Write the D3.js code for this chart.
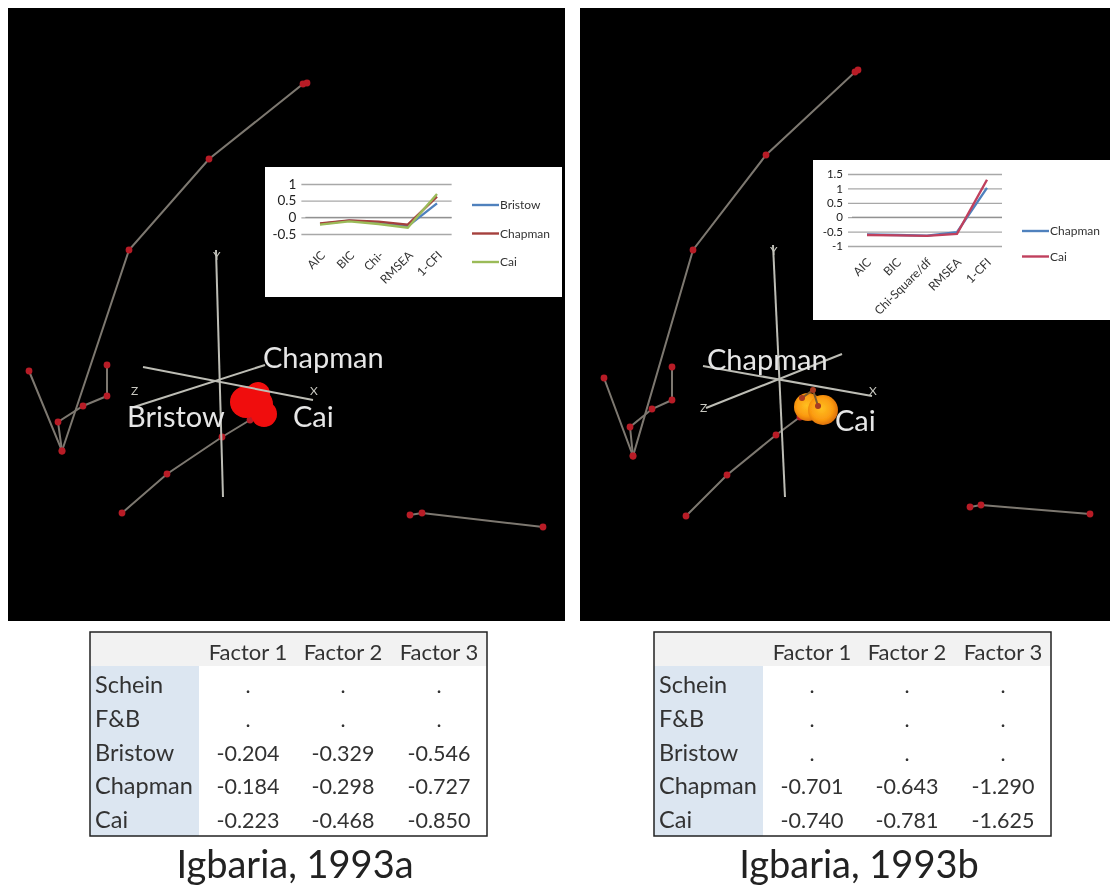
<!DOCTYPE html>
<html><head><meta charset="utf-8">
<script src="https://cdn.jsdelivr.net/npm/d3@7/dist/d3.min.js"></script>
<style>html,body{margin:0;background:#fff;overflow:hidden}svg{display:block}text{font-family:Lato,"Open Sans",sans-serif}</style>
</head><body><svg id="c" width="1110" height="886"></svg>
<script>
// ---- data ----
const factors = ["Factor 1","Factor 2","Factor 3"];
const rows = ["Schein","F&B","Bristow","Chapman","Cai"];
const tableA = [[".",".","."],[".",".","."],["-0.204","-0.329","-0.546"],["-0.184","-0.298","-0.727"],["-0.223","-0.468","-0.850"]];
const tableB = [[".",".","."],[".",".","."],[".",".","."],["-0.701","-0.643","-1.290"],["-0.740","-0.781","-1.625"]];
const fits = ["AIC","BIC","Chi-Square/df","RMSEA","1-CFI"];
const fitsShort = ["AIC","BIC","Chi-","RMSEA","1-CFI"];
const bristowA = [-0.20,-0.10,-0.15,-0.27,0.42];
const chapmanA = [-0.18,-0.09,-0.13,-0.22,0.62];
const caiA = [-0.22,-0.12,-0.20,-0.31,0.70];
const chapmanB = [-0.60,-0.62,-0.64,-0.52,1.02];
const caiB = [-0.62,-0.63,-0.65,-0.58,1.30];
// scene points, in scene units
const chainsA = [[[299,75],[295,76],[201,151],[121,242],[54,443],[21,363]],[[54,443],[50,414],[75,398],[99,388],[99,357]],[[114,505],[159,466],[214,429],[242,412]],[[402,507],[414,505],[535,519]]];
const chainsB = [[[278,62],[275,64],[186,147],[113,242],[53,448],[24,370]],[[53,448],[50,419],[72,401],[92,392],[92,359]],[[106,508],[147,467],[196,427],[220,409]],[[390,499],[401,497],[510,506]]];
const sticksA = [];
const sticksB = [[[222,390],[233,382],[238,398]]];
const axesA = [[[208,242],[215,489]],[[135,359],[305,392]],[[126,399],[257,357]]];
const axesB = [[[193,237],[205,489]],[[123,358],[292,388]],[[126,400],[262,346]]];
const axisLetA = [["Y",205,252],["X",302,387],["Z",123,387]];
const axisLetB = [["Y",190,247],["X",289,387],["Z",120,404]];
const blobsA = [[238,394,16],[250,386,12],[256,406,13],[250,396,15]];
const blobsB = [[228,399,14],[243,402,15]];
const labelsA = [["Chapman",255,360],["Bristow",119,419],["Cai",285,419]];
const labelsB = [["Chapman",127,362],["Cai",255,423]];
const colorsA = {Bristow:"#4f81bd",Chapman:"#a5403d",Cai:"#9bbb59"};
const colorsB = {Chapman:"#4f81bd",Cai:"#c0405d"};

// ---- drawing ----
const svg = d3.select("#c");
const defs = svg.append("defs");
const f = defs.append("filter").attr("id","soft").attr("x","-5%").attr("y","-5%").attr("width","110%").attr("height","110%");
f.append("feGaussianBlur").attr("stdDeviation",0.7);
const f2 = defs.append("filter").attr("id","soft2").attr("x","-5%").attr("y","-5%").attr("width","110%").attr("height","110%");
f2.append("feGaussianBlur").attr("stdDeviation",0.4);
const g = defs.append("radialGradient").attr("id","orange").attr("cx","45%").attr("cy","45%").attr("r","58%");
[[0,"#ffc020"],[0.65,"#fb9a10"],[1,"#d86a08"]].forEach(d=>g.append("stop").attr("offset",d[0]).attr("stop-color",d[1]));

function scene(x0,w,chains,sticks,axes,letters,blobs,labels,blobFill){
  const sx = d3.scaleLinear().domain([0,w]).range([x0,x0+w]);
  const sy = d3.scaleLinear().domain([0,613]).range([8,621]);
  svg.append("rect").attr("x",sx(0)).attr("y",sy(0)).attr("width",w).attr("height",613).attr("fill","#000");
  const s = svg.append("g").attr("filter","url(#soft2)");
  const line = d3.line().x(d=>sx(d[0])).y(d=>sy(d[1]));
  s.selectAll(null).data(chains).join("path").attr("d",line).attr("fill","none").attr("stroke","#7d7870").attr("stroke-width",2);
  s.selectAll(null).data(chains.flat()).join("circle").attr("cx",d=>sx(d[0])).attr("cy",d=>sy(d[1])).attr("r",3.4).attr("fill","#b81e28");
  s.selectAll(null).data(blobs).join("circle").attr("cx",d=>sx(d[0])).attr("cy",d=>sy(d[1])).attr("r",d=>d[2]).attr("fill",blobFill);
  s.selectAll(null).data(sticks).join("path").attr("d",line).attr("fill","none").attr("stroke","#7a5a30").attr("stroke-width",2);
  s.selectAll(null).data(sticks.flat()).join("circle").attr("cx",d=>sx(d[0])).attr("cy",d=>sy(d[1])).attr("r",3).attr("fill","#a83a20");
  s.selectAll(null).data(axes).join("path").attr("d",line).attr("fill","none").attr("stroke","#bdbdb5").attr("stroke-width",2);
  s.selectAll(null).data(letters).join("text").attr("x",d=>sx(d[1])).attr("y",d=>sy(d[2])).attr("fill","#c8c8c0").attr("font-size",12).text(d=>d[0]);
  svg.selectAll(null).data(labels).join("text").attr("x",d=>sx(d[1])).attr("y",d=>sy(d[2])).attr("fill","#e6e6e6").attr("font-size",29).attr("filter","url(#soft2)").text(d=>d[0]);
}
scene(8,557,chainsA,sticksA,axesA,axisLetA,blobsA,labelsA,"#f00d0d");
scene(580,530,chainsB,sticksB,axesB,axisLetB,blobsB,labelsB,"url(#orange)");

function inset(o){
  const b = svg.append("g").attr("filter","url(#soft)");
  b.append("rect").attr("x",o.box[0]).attr("y",o.box[1]).attr("width",o.box[2]).attr("height",o.box[3]).attr("fill","#fff");
  const y = d3.scaleLinear().domain(o.dom).range(o.yr);
  const x = d3.scalePoint().domain(d3.range(5)).range(o.xr);
  const band = x.step();
  const xl = o.xr[0]-band/2, xh = o.xr[1]+band/2;
  const ga = b.append("g").attr("transform",`translate(${xl},0)`).call(d3.axisLeft(y).tickValues(o.ticks).tickSize(-(xh-xl)).tickFormat(d=>String(d)));
  ga.select(".domain").remove();
  ga.selectAll(".tick line").attr("x1",-4).attr("stroke","#a8a8a8").attr("stroke-width",1.3);
  ga.selectAll(".tick text").attr("font-size",o.tickSize).attr("fill","#222").attr("x",-9).attr("font-family","Lato");
  b.append("line").attr("x1",xl).attr("x2",xh).attr("y1",y(0)).attr("y2",y(0)).attr("stroke","#888");
  b.selectAll(null).data(o.cats).join("text").attr("font-size",12).attr("fill","#333").attr("text-anchor","end")
    .attr("transform",(d,i)=>`translate(${x(i)+o.lab[0]},${o.yr[0]+o.lab[1]}) rotate(-45)`).text(d=>d);
  const line = d3.line().x((d,i)=>x(i)).y(d=>y(d));
  o.series.forEach(s=>b.append("path").attr("d",line(s.v)).attr("fill","none").attr("stroke",o.colors[s.n]).attr("stroke-width",2.4));
  o.series.forEach((s,i)=>{
    const ly = o.leg[1]+i*o.leg[2];
    b.append("line").attr("x1",o.leg[0]).attr("x2",o.leg[0]+27).attr("y1",ly).attr("y2",ly).attr("stroke",o.colors[s.n]).attr("stroke-width",2.4);
    b.append("text").attr("x",o.leg[0]+28).attr("y",ly+4).attr("font-size",o.legSize).attr("fill","#333").text(s.n);
  });
}
inset({box:[265,167,297,130],dom:[-0.5,1],yr:[234,184],xr:[320,437],ticks:[-0.5,0,0.5,1],tickSize:13.5,cats:fitsShort,lab:[6,22],leg:[472,205,28.5],legSize:12,colors:colorsA,
  series:[{n:"Bristow",v:bristowA},{n:"Chapman",v:chapmanA},{n:"Cai",v:caiA}]});
inset({box:[813,160,297,160],dom:[-1,1.5],yr:[246,174],xr:[867,987],ticks:[-1,-0.5,0,0.5,1,1.5],tickSize:11.5,cats:fits,lab:[5,17],leg:[1022,231,25.5],legSize:12,colors:colorsB,
  series:[{n:"Chapman",v:chapmanB},{n:"Cai",v:caiB}]});

function table(x0,data,title){
  const t = svg.append("g").attr("filter","url(#soft2)");
  const w = 397, h = 204, y0 = 632;
  const col = d3.scaleOrdinal().domain(factors).range([158,253,349]);
  const row = d3.scaleBand().domain(rows).range([34,203]);
  t.append("rect").attr("x",x0).attr("y",y0).attr("width",w).attr("height",34).attr("fill","#f2f2f2");
  t.append("rect").attr("x",x0).attr("y",y0+34).attr("width",109).attr("height",h-34).attr("fill","#dce6f1");
  t.append("rect").attr("x",x0).attr("y",y0).attr("width",w).attr("height",h).attr("fill","none").attr("stroke","#222").attr("stroke-width",1.5);
  t.selectAll(null).data(factors).join("text").attr("x",d=>x0+col(d)).attr("y",y0+28).attr("text-anchor","middle").attr("font-size",22).attr("fill","#333").text(d=>d);
  t.selectAll(null).data(rows).join("text").attr("x",x0+5).attr("y",d=>y0+row(d)+row.bandwidth()/2+10).attr("font-size",23.5).attr("fill","#333").text(d=>d);
  rows.forEach((r,i)=>factors.forEach((c,j)=>{
    t.append("text").attr("x",x0+col(c)).attr("y",y0+row(r)+row.bandwidth()/2+10).attr("text-anchor","middle").attr("font-size",21.5).attr("fill","#333").text(data[i][j]);
  }));
  t.append("text").attr("x",x0+205).attr("y",878).attr("text-anchor","middle").attr("font-size",38).attr("fill","#222").text(title);
}
table(90,tableA,"Igbaria, 1993a");
table(654,tableB,"Igbaria, 1993b");
</script></body></html>
